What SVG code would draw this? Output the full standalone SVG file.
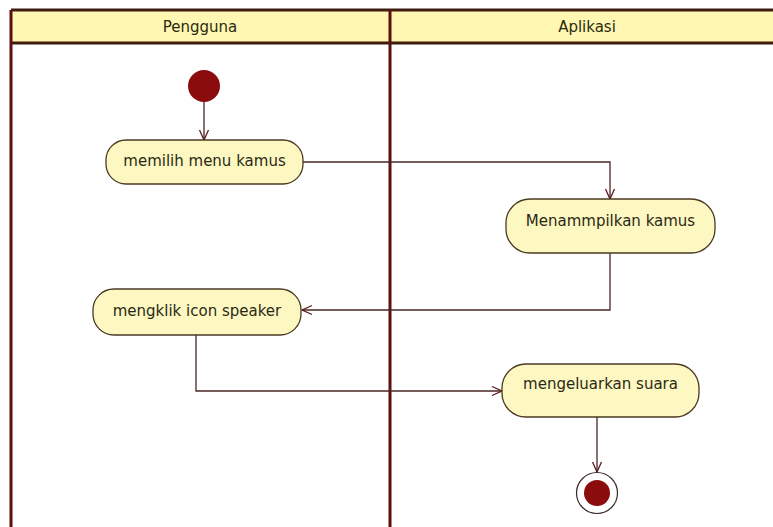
<svg xmlns="http://www.w3.org/2000/svg" width="773" height="527" viewBox="0 0 773 527">
  <style>
    .lane-head { fill: #fff7b2; }
    .lane-line { stroke: #5c1010; stroke-width: 3; fill: none; }
    .head-line { stroke: #3e1c10; stroke-width: 3; fill: none; }
    .head-text { font-family: "DejaVu Sans", "Liberation Sans", sans-serif; font-size: 15px; fill: #2a2a10; text-anchor: middle; }
    .action rect { fill: #fdf7c2; stroke: #4a3a22; stroke-width: 1.3; }
    .action text { font-family: "DejaVu Sans", "Liberation Sans", sans-serif; font-size: 15px; fill: #2a2a14; text-anchor: middle; }
    .flow { stroke: #4a2626; stroke-width: 1.3; fill: none; marker-end: url(#open-arrow); }
    .dot { fill: #8a0c0c; }
  </style>
  <defs>
    <marker id="open-arrow" viewBox="0 0 12 12" refX="11" refY="6" markerWidth="12" markerHeight="12" markerUnits="userSpaceOnUse" orient="auto">
      <path d="M1,1.5 L11,6 L1,10.5" fill="none" stroke="#5a1a1a" stroke-width="1.3"/>
    </marker>
  </defs>

  <rect width="773" height="527" fill="#ffffff"/>

  <!-- swimlanes -->
  <g id="lanes">
    <rect class="lane-head" x="11" y="10" width="762" height="33"/>
    <line class="head-line" x1="11" y1="10" x2="773" y2="10"/>
    <line class="head-line" x1="11" y1="43" x2="773" y2="43"/>
    <line class="lane-line" x1="11" y1="10" x2="11" y2="527"/>
    <line class="lane-line" x1="390" y1="10" x2="390" y2="527"/>
    <text class="head-text" x="200" y="32">Pengguna</text>
    <text class="head-text" x="587" y="32">Aplikasi</text>
  </g>

  <!-- control flows -->
  <g id="connectors">
    <path class="flow" d="M204,102 V140"/>
    <path class="flow" d="M303,162 H610 V199"/>
    <path class="flow" d="M610,253 V310 H302"/>
    <path class="flow" d="M196,335 V391 H502"/>
    <path class="flow" d="M597,417 V472"/>
  </g>

  <g id="start">
    <circle class="dot" cx="204" cy="86" r="16"/>
  </g>

  <g id="memilih-menu-kamus" class="action">
    <rect x="106" y="140" width="197" height="44" rx="20"/>
    <text x="204.5" y="166">memilih menu kamus</text>
  </g>

  <g id="menampilkan-kamus" class="action">
    <rect x="506" y="199" width="209" height="54" rx="24"/>
    <text x="610.5" y="226">Menammpilkan kamus</text>
  </g>

  <g id="mengklik-icon-speaker" class="action">
    <rect x="93" y="289" width="208" height="46" rx="21"/>
    <text x="197" y="316">mengklik icon speaker</text>
  </g>

  <g id="mengeluarkan-suara" class="action">
    <rect x="502" y="364" width="197" height="53" rx="24"/>
    <text x="600.5" y="389">mengeluarkan suara</text>
  </g>

  <g id="end">
    <circle cx="597" cy="493" r="20.5" fill="#ffffff" stroke="#3a2a2a" stroke-width="1.2"/>
    <circle class="dot" cx="597" cy="493" r="13"/>
  </g>
</svg>
